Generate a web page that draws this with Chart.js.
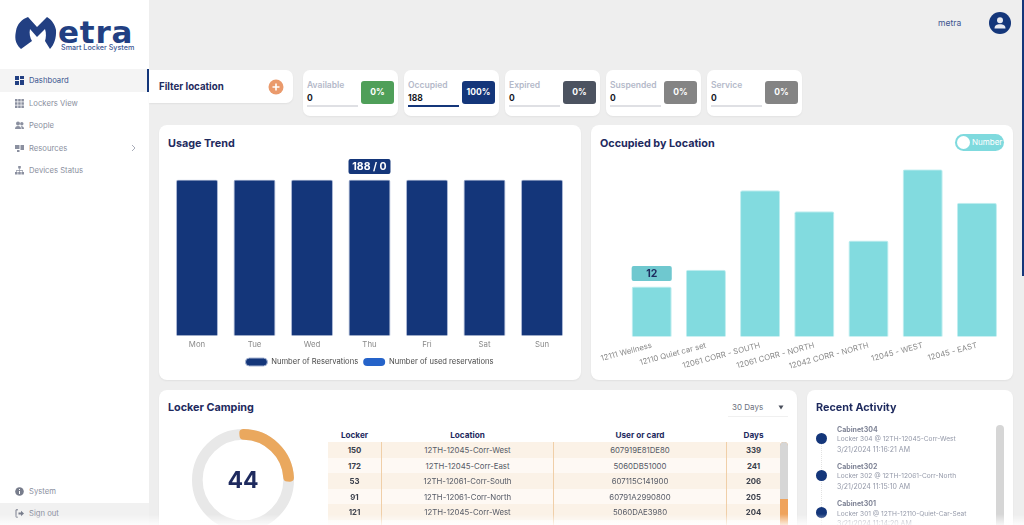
<!DOCTYPE html>
<html>
<head>
<meta charset="utf-8">
<title>Metra Dashboard</title>
<script src="https://cdn.jsdelivr.net/npm/chart.js@4"></script>
<style>
    html, body { margin: 0; padding: 0; }
    body { width: 1024px; height: 525px; overflow: hidden; position: relative; background: #eeeeee; font-family: Inter, sans-serif; color: #1e2a5e; }
    .abs, .card, .nav, .stat, canvas { position: absolute; }
    .card { background: #fff; border-radius: 8px; box-shadow: 0 1px 2px rgba(0, 0, 0, 0.06); }
    .title { position: absolute; font-weight: 700; font-size: 10.8px; color: #1e2a5e; white-space: nowrap; }
    .nav { left: 29px; font-size: 7.7px; line-height: 12px; color: #8b90a0; white-space: nowrap; }
    .navicon { position: absolute; left: 15px; width: 9px; height: 9px; }
    .stat { top: 70px; width: 95px; height: 46px; background: #fff; border-radius: 7px; box-shadow: 0 1px 2px rgba(0, 0, 0, 0.05); }
    .stat .label { position: absolute; left: 4px; top: 10px; font-size: 8.5px; line-height: 11px; font-weight: 600; color: #b4b9c9; }
    .stat .value { position: absolute; left: 4px; top: 23px; font-size: 8.5px; line-height: 11px; font-weight: 700; color: #16181f; }
    .stat .line { position: absolute; left: 4px; top: 35px; width: 51px; height: 1.5px; background: #dfe0e4; }
    .stat .badge { position: absolute; left: 58px; top: 11px; width: 33px; height: 23px; border-radius: 3px; color: #fff; font-size: 8.5px; font-weight: 700; line-height: 23px; text-align: center; }
    .tbl { position: absolute; left: 328px; width: 452px; height: 15.5px; line-height: 16.5px; font-size: 7.8px; color: #555a66; }
    .tbl span { position: absolute; top: 0; text-align: center; white-space: nowrap; }
    .tbl .c0 { left: 0; width: 53px; font-weight: 700; color: #3a3f4b; }
    .tbl .c1 { left: 54px; width: 171px; }
    .tbl .c2 { left: 226px; width: 172px; }
    .tbl .c3 { left: 399px; width: 53px; font-weight: 700; color: #3a3f4b; }
    .head { font-weight: 700; color: #1e2a5e; font-size: 8.2px; }
    .head .c0, .head .c3 { color: #1e2a5e; }
    .act { position: absolute; left: 837px; font-size: 7px; line-height: 9.5px; color: #9398a8; white-space: nowrap; }
    .act b { color: #7f8496; }
    .act i { font-style: normal; font-size: 6.6px; }
    .dot { position: absolute; left: 816px; width: 11px; height: 11px; border-radius: 50%; background: #14367a; }
</style>
</head>
<body>

<!-- sidebar -->
<div class="abs" style="left:0;top:0;width:149px;height:525px;background:#fff"></div>
<div class="abs" style="left:0;top:69px;width:149px;height:23px;background:#f4f4f4"></div>
<div class="abs" style="left:0;top:503px;width:149px;height:22px;background:#f1f1f1"></div>
<div class="abs" style="left:147px;top:69px;width:2px;height:23px;background:#14367a"></div>

<!-- logo -->
<svg class="abs" style="left:0;top:0" width="70" height="60" viewBox="0 0 70 60">
    <path d="M21 49 C14 43 15 36 16 31 C17 24 22 19 28 17 L37 27 L47 17 C52 20 55 25 56 30 C56.500 38 54 45 50 49 L45 41 C46 38 46.500 33 45 29 L37 37 L30 29 C29 33 30 38 32 41 Z" fill="#223f82"/>
</svg>
<div class="abs" style="left:58px;top:14px;font-size:31px;line-height:36px;font-weight:700;color:#223f82;letter-spacing:0.8px;font-family:'DejaVu Sans'">etra</div>
<div class="abs" style="left:61px;top:43px;font-size:7.2px;line-height:9px;font-weight:500;color:#3f5a96;white-space:nowrap">Smart Locker System</div>

<svg class="navicon" style="top:76px" viewBox="0 0 9 9"><path d="M0 0h4v4H0zM5 0h4v3H5zM0 5h4v4H0zM5 4h4v5H5z" fill="#223f82"/></svg>
<div class="nav" style="top:75px;color:#3c5590">Dashboard</div>
<svg class="navicon" style="top:99px" viewBox="0 0 9 9"><path d="M0 0h2.500v2.500H0zM3.200 0h2.500v2.500H3.200zM6.400 0h2.500v2.500H6.400zM0 3.200h2.500v2.500H0zM3.200 3.200h2.500v2.500H3.200zM6.400 3.200h2.500v2.500H6.400zM0 6.400h2.500v2.500H0zM3.200 6.400h2.500v2.500H3.200zM6.400 6.400h2.500v2.500H6.400z" fill="#8b90a0"/></svg>
<div class="nav" style="top:98px">Lockers View</div>
<svg class="navicon" style="top:121px" viewBox="0 0 9 9"><circle cx="3" cy="2.500" r="2" fill="#8b90a0"/><circle cx="6.800" cy="2.800" r="1.700" fill="#8b90a0"/><path d="M0 8c0-2 1-3 3-3s3 1 3 3zM6.500 8c0-1.200 0-2-.6-3 1.800 0 3.100.8 3.100 3z" fill="#8b90a0"/></svg>
<div class="nav" style="top:120px">People</div>
<svg class="navicon" style="top:144px" viewBox="0 0 9 9"><path d="M0 1h4.500v4H0zM5.500 1H9v5H5.500zM2 6h2.500v2H2z" fill="#8b90a0"/></svg>
<div class="nav" style="top:143px">Resources</div>
<svg class="abs" style="left:131px;top:144px" width="5" height="8" viewBox="0 0 5 8"><path d="M1 1l3 3-3 3" fill="none" stroke="#a9adb9" stroke-width="1"/></svg>
<svg class="navicon" style="top:166px" viewBox="0 0 9 9"><path d="M3.200 0h2.600v2.600H3.200zM0 6h2.600v2.600H0zM3.200 6h2.600v2.600H3.200zM6.400 6H9v2.600H6.400zM4.200 2.600h.6v1.700h3.200V6h-.6V4.900H4.800V6h-.6V4.900H1.600V6H1V4.300h3.200z" fill="#8b90a0"/></svg>
<div class="nav" style="top:165px">Devices Status</div>
<svg class="navicon" style="top:487px" viewBox="0 0 9 9"><circle cx="4.500" cy="4.500" r="4.300" fill="#787d8c"/><path d="M4 2h1v1H4zM4 4h1v3H4z" fill="#fff"/></svg>
<div class="nav" style="top:486px">System</div>
<svg class="navicon" style="top:509px" viewBox="0 0 9 9"><path d="M3 .8H1v7.400h2" fill="none" stroke="#787d8c" stroke-width="1"/><path d="M3.500 3.500h2.500V1.800L9 4.500 6 7.200V5.500H3.500z" fill="#787d8c"/></svg>
<div class="nav" style="top:508px">Sign out</div>

<!-- top right -->
<div class="abs" style="left:938px;top:17px;font-size:8.5px;line-height:12px;color:#3c5590">metra</div>
<svg class="abs" style="left:989px;top:12px" width="22" height="22" viewBox="0 0 22 22">
    <circle cx="11" cy="11" r="11" fill="#14367a"/>
    <circle cx="11" cy="8.200" r="3" fill="#e9ebf2"/>
    <path d="M5.500 16.500c0-3 2.200-4.300 5.500-4.300s5.500 1.300 5.500 4.300z" fill="#e9ebf2"/>
</svg>
<div class="abs" style="left:1022px;top:0;width:2px;height:276px;background:#14367a"></div>

<!-- filter -->
<div class="card" style="left:149px;top:70px;width:144px;height:33px;border-radius:0 7px 7px 0"></div>
<div class="title" style="left:159px;top:80px;font-size:9.700px;line-height:13px">Filter location</div>
<svg class="abs" style="left:268px;top:79px" width="16" height="16" viewBox="0 0 16 16">
    <circle cx="8" cy="8" r="7.500" fill="#ea9a6c"/>
    <path d="M8 4.500v7M4.500 8h7" stroke="#fff" stroke-width="1.600"/>
</svg>

<div id="stats"></div>

<!-- usage trend -->
<div class="card" style="left:159px;top:125px;width:422px;height:255px"></div>
<div class="title" style="left:168px;top:137px;line-height:14px">Usage Trend</div>
<canvas id="usageChart" style="left:159px;top:150px"></canvas>

<!-- occupied by location -->
<div class="card" style="left:591px;top:125px;width:422px;height:255px"></div>
<div class="title" style="left:600px;top:137px;line-height:14px">Occupied by Location</div>
<div class="abs" style="left:955px;top:134px;width:49px;height:17px;border-radius:9px;background:#7fdade"></div>
<div class="abs" style="left:957px;top:136px;width:13px;height:13px;border-radius:50%;background:#fff"></div>
<div class="abs" style="left:972px;top:137px;font-size:8px;line-height:11px;color:#fff">Number</div>
<canvas id="locationChart" style="left:591px;top:155px"></canvas>

<!-- locker camping -->
<div class="card" style="left:159px;top:390px;width:638px;height:145px"></div>
<div class="title" style="left:168px;top:401px;line-height:14px">Locker Camping</div>
<canvas id="campingChart" style="left:188px;top:425px"></canvas>
<div class="abs" style="left:203px;top:465px;width:80px;text-align:center;font-size:23px;line-height:30px;font-weight:700;color:#1e2a5e">44</div>
<div class="abs" style="left:732px;top:402px;font-size:8px;line-height:11px;color:#6a6f7c">30 Days</div>
<svg class="abs" style="left:778px;top:405px" width="6" height="5" viewBox="0 0 6 5"><path d="M0.500 0.500h5L3 4.500z" fill="#4a4f5c"/></svg>
<div class="abs" style="left:728px;top:416px;width:60px;height:1px;background:#f0f0f0"></div>
<div id="campingTable"></div>
<div class="abs" style="left:780px;top:442px;width:8px;height:83px;background:#efa35c;border-radius:4px 4px 0 0"></div>
<div class="abs" style="left:780px;top:442px;width:8px;height:57px;background:#d6d6d6;border-radius:4px 4px 0 0"></div>

<!-- recent activity -->
<div class="card" style="left:807px;top:390px;width:206px;height:145px"></div>
<div class="title" style="left:816px;top:401px;line-height:14px">Recent Activity</div>
<div class="abs" style="left:821px;top:440px;width:0;height:85px;border-left:1px dotted #e2e2e2"></div>
<div id="activity"></div>
<div class="abs" style="left:996px;top:425px;width:8px;height:100px;background:#d6d6d6;border-radius:4px 4px 0 0"></div>

<!-- bottom fade of the screenshot -->
<div class="abs" style="left:0;top:514px;width:1024px;height:11px;background:linear-gradient(rgba(255,255,255,0),rgba(255,255,255,0.8));z-index:5"></div>

<script>
const days = ['Mon', 'Tue', 'Wed', 'Thu', 'Fri', 'Sat', 'Sun'];
const reservations = [188, 188, 188, 188, 188, 188, 188];
const usedReservations = [0, 0, 0, 0, 0, 0, 0];

const locations = ['12111 Wellness', '12110 Quiet car set', '12061 CORR - SOUTH', '12061 CORR - NORTH', '12042 CORR - NORTH', '12045 - WEST', '12045 - EAST'];
const occupied = [12, 16, 35, 30, 23, 40, 32];

const campingCount = 44;
const campingRest = 120;

const statNames = ['Available', 'Occupied', 'Expired', 'Suspended', 'Service'];
const statValues = [0, 188, 0, 0, 0];
const statPercents = ['0%', '100%', '0%', '0%', '0%'];
const statColors = ['#4f9f59', '#14367a', '#4c5360', '#848484', '#848484'];

const lockerNos = ['150', '172', '53', '91', '121'];
const lockerPlaces = ['12TH-12045-Corr-West', '12TH-12045-Corr-East', '12TH-12061-Corr-South', '12TH-12061-Corr-North', '12TH-12045-Corr-West'];
const lockerUsers = ['607919E81DE80', '5060DB51000', '607115C141900', '60791A2990800', '5060DAE3980'];
const lockerDays = ['339', '241', '206', '205', '204'];

const activityNames = ['Cabinet304', 'Cabinet302', 'Cabinet301'];
const activityLines = ['Locker 304 @ 12TH-12045-Corr-West', 'Locker 302 @ 12TH-12061-Corr-North', 'Locker 301 @ 12TH-12110-Quiet-Car-Seat'];
const activityTimes = ['3/21/2024 11:16:21 AM', '3/21/2024 11:15:10 AM', '3/21/2024 11:14:20 AM'];

// stat cards
let statHtml = '';
statNames.forEach((name, i) => {
    const underline = statValues[i] > 0 ? 'background:#14367a' : '';
    statHtml += `<div class="stat" style="left:${303 + i * 101}px">
        <div class="label">${name}</div>
        <div class="value">${statValues[i]}</div>
        <div class="line" style="${underline}"></div>
        <div class="badge" style="background:${statColors[i]}">${statPercents[i]}</div>
    </div>`;
});
document.getElementById('stats').innerHTML = statHtml;

// camping table
let tableHtml = `<div class="tbl head" style="top:427px">
    <span class="c0">Locker</span><span class="c1">Location</span><span class="c2">User or card</span><span class="c3">Days</span>
</div>`;
for (let i = 0; i < 6; i++) {
    const bg = i % 2 === 0 ? '#fbf2e7' : '#fef9f4';
    const top = 442 + i * 15.5;
    tableHtml += `<div class="tbl" style="top:${top}px;background:${bg}">`;
    if (i < lockerNos.length) {
        tableHtml += `<span class="c0">${lockerNos[i]}</span><span class="c1">${lockerPlaces[i]}</span><span class="c2">${lockerUsers[i]}</span><span class="c3">${lockerDays[i]}</span>`;
    }
    tableHtml += '</div>';
}
tableHtml += '<div class="abs" style="left:381px;top:442px;width:1px;height:83px;background:#f0cfa8"></div>';
tableHtml += '<div class="abs" style="left:553px;top:442px;width:1px;height:83px;background:#f0cfa8"></div>';
tableHtml += '<div class="abs" style="left:726px;top:442px;width:1px;height:83px;background:#f0cfa8"></div>';
document.getElementById('campingTable').innerHTML = tableHtml;

// activity list
let activityHtml = '';
activityNames.forEach((name, i) => {
    const top = 424.5 + i * 37.4;
    activityHtml += `<div class="act" style="top:${top}px"><b>${name}</b><br><i>${activityLines[i]}</i><br>${activityTimes[i]}</div>`;
    activityHtml += `<div class="dot" style="top:${top + 8}px"></div>`;
});
document.getElementById('activity').innerHTML = activityHtml;

// pill label above one hovered bar
const pillPlugin = {
    id: 'pill',
    afterDatasetsDraw(chart, args, opts) {
        const bar = chart.getDatasetMeta(0).data[opts.index];
        const ctx = chart.ctx;
        const w = bar.width;
        const h = 15;
        ctx.save();
        ctx.fillStyle = opts.fill;
        ctx.beginPath();
        ctx.roundRect(bar.x - w / 2, bar.y - 5.500 - h, w, h, 2);
        ctx.fill();
        ctx.fillStyle = opts.color;
        ctx.font = '700 10.500px Inter';
        ctx.textAlign = 'center';
        ctx.textBaseline = 'middle';
        ctx.fillText(opts.text, bar.x, bar.y - 5 - h / 2);
        ctx.restore();
    },
};

// grey track behind the doughnut
const trackPlugin = {
    id: 'track',
    beforeDatasetsDraw(chart) {
        const arc = chart.getDatasetMeta(0).data[0];
        const ctx = chart.ctx;
        ctx.save();
        ctx.strokeStyle = '#e8e8e8';
        ctx.lineWidth = arc.outerRadius - arc.innerRadius;
        ctx.beginPath();
        ctx.arc(arc.x, arc.y, (arc.outerRadius + arc.innerRadius) / 2, 0, Math.PI * 2);
        ctx.stroke();
        ctx.restore();
    },
};

function sizeCanvas(id, w, h) {
    const canvas = document.getElementById(id);
    canvas.width = w;
    canvas.height = h;
    canvas.style.width = w + 'px';
    canvas.style.height = h + 'px';
    return canvas;
}

new Chart(sizeCanvas('usageChart', 422, 226), {
    type: 'bar',
    data: {
        labels: days,
        datasets: [
            { label: 'Number of Reservations', data: reservations, backgroundColor: '#14367a', borderColor: '#a9b6d4', borderWidth: 1, borderRadius: 2 },
            { label: 'Number of used reservations', data: usedReservations, backgroundColor: '#2563c9', borderWidth: 0 },
        ],
    },
    options: {
        responsive: false,
        animation: false,
        barPercentage: 0.73,
        categoryPercentage: 1,
        layout: { padding: { left: 9.250, right: 10.250, top: 29.500, bottom: 0 } },
        scales: {
            x: { stacked: true, grid: { display: false, drawTicks: false }, border: { display: false }, ticks: { color: '#8a8a8a', font: { size: 7.800, family: 'Inter' }, padding: 4 } },
            y: { stacked: true, display: false, min: 0, max: 188 },
        },
        plugins: {
            legend: {
                position: 'bottom',
                labels: { boxWidth: 22, boxHeight: 8, useBorderRadius: true, borderRadius: 4, color: '#4a4a4a', font: { size: 7.600, family: 'Inter' }, padding: 5 },
            },
            tooltip: { enabled: false },
            pill: { index: 3, text: reservations[3] + ' / ' + usedReservations[3], fill: '#14367a', color: '#fff' },
        },
    },
    plugins: [pillPlugin],
});

new Chart(sizeCanvas('locationChart', 422, 220), {
    type: 'bar',
    data: {
        labels: locations,
        datasets: [
            { label: 'Occupied', data: occupied, backgroundColor: '#82dbdf', borderColor: '#c0eef0', borderWidth: 1, borderRadius: 2 },
        ],
    },
    options: {
        responsive: false,
        animation: false,
        barPercentage: 0.74,
        categoryPercentage: 1,
        layout: { padding: { left: 33.600, right: 9, top: 14.300, bottom: 0 } },
        scales: {
            x: {
                grid: { display: false, drawTicks: false },
                border: { display: false },
                ticks: { color: '#8a8a8a', font: { size: 7.800, family: 'Inter' }, minRotation: 15, maxRotation: 15, autoSkip: false, padding: 4 },
            },
            y: { display: false, min: 0, max: 40 },
        },
        plugins: {
            legend: { display: false },
            tooltip: { enabled: false },
            pill: { index: 0, text: String(occupied[0]), fill: '#6fc8cf', color: '#1e2a5e' },
        },
    },
    plugins: [pillPlugin],
});

new Chart(sizeCanvas('campingChart', 110, 110), {
    type: 'doughnut',
    data: {
        labels: ['Camping', 'Other'],
        datasets: [
            { data: [campingCount, campingRest], backgroundColor: ['#eaa85e', 'rgba(0,0,0,0)'], borderWidth: 0, borderRadius: [4, 0] },
        ],
    },
    options: {
        responsive: false,
        animation: false,
        rotation: -4.500,
        cutout: 43.500,
        radius: 51,
        plugins: { legend: { display: false }, tooltip: { enabled: false } },
    },
    plugins: [trackPlugin],
});
</script>
</body>
</html>
